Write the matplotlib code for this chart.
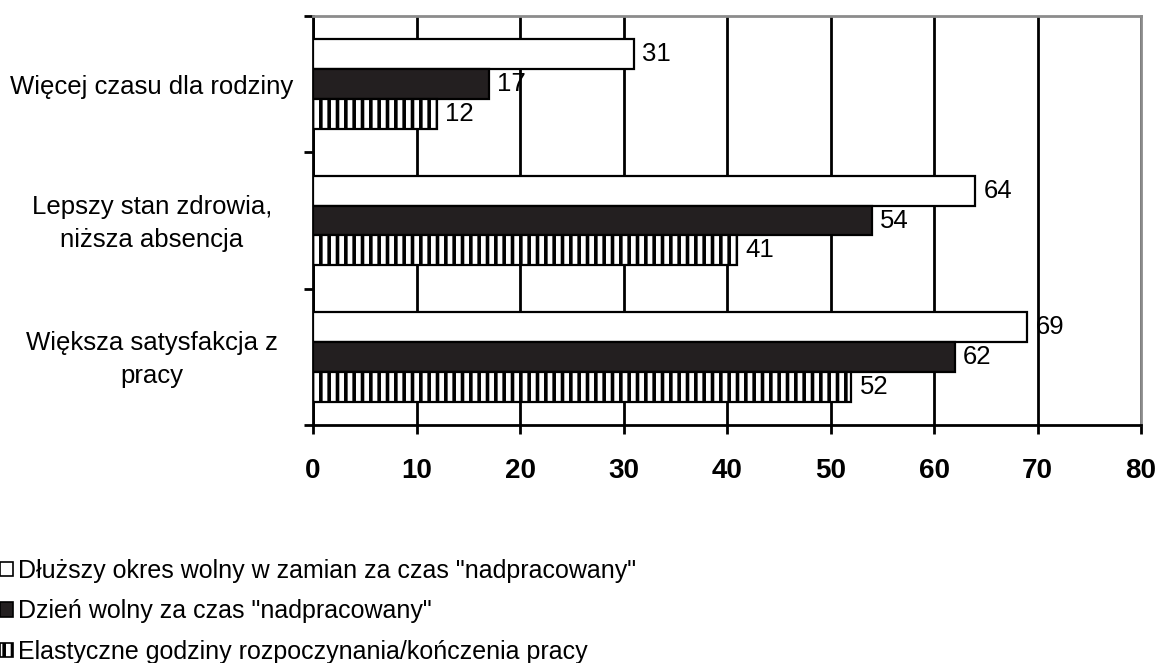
import matplotlib
matplotlib.use("Agg")
import matplotlib.pyplot as plt
import numpy as np
from matplotlib.patches import Patch
from matplotlib.transforms import ScaledTranslation

categories = ["Więcej czasu dla rodziny",
              "Lepszy stan zdrowia,\nniższa absencja",
              "Większa satysfakcja z\npracy"]
series_names = ['Dłuższy okres wolny w zamian za czas "nadpracowany"',
                'Dzień wolny za czas "nadpracowany"',
                'Elastyczne godziny rozpoczynania/kończenia pracy']
values_dluzszy = [31, 64, 69]
values_dzien = [17, 54, 62]
values_elastyczne = [12, 41, 52]
xticks = [0, 10, 20, 30, 40, 50, 60, 70, 80]

plt.rcParams['font.family'] = ['Liberation Sans', 'DejaVu Sans']
plt.rcParams['hatch.linewidth'] = 2.6

fig = plt.figure(figsize=(11.57, 6.63), dpi=100)
ax = fig.add_axes([313/1157, 1-425/663, (1141-313)/1157, (425-16)/663])

y = np.arange(len(categories))
h = 0.22
styles = [dict(facecolor='white', edgecolor='black', hatch=None),
          dict(facecolor='#231f20', edgecolor='black', hatch=None),
          dict(facecolor='white', edgecolor='black', hatch='||')]
all_vals = [values_dluzszy, values_dzien, values_elastyczne]
offsets = [-h, 0, h]
handles = []
for vals, st, off, name in zip(all_vals, styles, offsets, series_names):
    bars = ax.barh(y + off, vals, height=h, linewidth=1.6, zorder=3, **st)
    for b, v in zip(bars, vals):
        ax.text(v + 0.8, b.get_y() + b.get_height()/2, str(v), va='center', ha='left',
                fontsize=18.5, zorder=4)
    handles.append(Patch(linewidth=1.2, label=name, **st))

ax.set_xlim(0, 80)
ax.set_ylim(2.5, -0.5)
ax.set_xticks(xticks)
ax.set_xticklabels([str(t) for t in xticks], fontsize=20, fontweight='bold')
ax.tick_params(axis='x', direction='out', length=6.5, width=2, pad=17)
ax.set_yticks(y)
ax.set_yticklabels(categories, fontsize=18.5, ha='center', multialignment='center',
                   linespacing=1.45)
ax.tick_params(axis='y', which='major', length=0, pad=116)
ax.set_yticks([-0.5, 0.5, 1.5, 2.5], minor=True)
ax.tick_params(axis='y', which='minor', direction='out', length=6.5, width=2)
ax.grid(axis='x', color='black', linewidth=2, zorder=0)
for s in ['left', 'bottom']:
    ax.spines[s].set_color('black')
    ax.spines[s].set_linewidth(2)
for s in ['top', 'right']:
    ax.spines[s].set_color('#8c8c8c')
    ax.spines[s].set_linewidth(2)
ax.set_axisbelow(True)

for lbl in ax.get_yticklabels():
    if '\n' in lbl.get_text():
        lbl.set_transform(lbl.get_transform() +
                          ScaledTranslation(0, 4/100, fig.dpi_scale_trans))

fig.legend(handles=handles, loc='upper left', bbox_to_anchor=(0.0, 0.157),
           frameon=False, fontsize=18, handlelength=0.5, handleheight=0.5,
           handletextpad=0.2, labelspacing=0.66, borderaxespad=0, borderpad=0)

fig.savefig("out.png", dpi=100)
